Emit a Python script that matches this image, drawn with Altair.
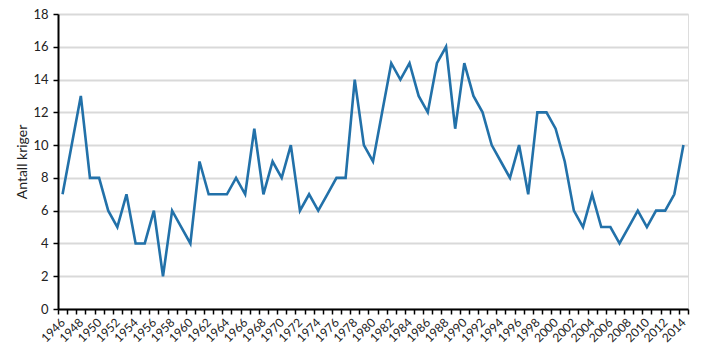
import altair as alt
import pandas as pd

years = list(range(1946, 2015))
wars = [7, 10, 13, 8, 8, 6, 5, 7, 4, 4,
        6, 2, 6, 5, 4, 9, 7, 7, 7, 8,
        7, 11, 7, 9, 8, 10, 6, 7, 6, 7,
        8, 8, 14, 10, 9, 12, 15, 14, 15, 13,
        12, 15, 16, 11, 15, 13, 12, 10, 9, 8,
        10, 7, 12, 12, 11, 9, 6, 5, 7, 5,
        5, 4, 5, 6, 5, 6, 6, 7, 10]
y_ticks = list(range(0, 19, 2))
label_years = list(range(1946, 2015, 2))

df = pd.DataFrame({"year": years, "wars": wars})

boundaries = [y - 0.5 for y in years] + [years[-1] + 0.5]
x_values = sorted(boundaries + label_years)

FONT = "Lato"

chart = alt.Chart(df).mark_line(color="#2271a9", strokeWidth=2.6).encode(
    x=alt.X("year:Q",
            scale=alt.Scale(domain=[years[0] - 0.5, years[-1] + 0.5], nice=False, zero=False),
            axis=alt.Axis(values=x_values, title=None, grid=False,
                          labelExpr="datum.value % 1 === 0 ? format(datum.value, 'd') : ''",
                          labelAngle=-45, labelAlign="right", labelBaseline="middle",
                          labelOverlap=False, labelBound=False, labelPadding=6,
                          labelFontSize=12, labelColor="#222", labelFont=FONT,
                          tickOpacity={"condition": {"test": "datum.value % 1 === 0", "value": 0}, "value": 1},
                          tickColor="#000", tickWidth=1.5, tickSize=5,
                          domainColor="#000", domainWidth=2)),
    y=alt.Y("wars:Q",
            scale=alt.Scale(domain=[0, 18], nice=False),
            axis=alt.Axis(values=y_ticks, title="Antall kriger",
                          titleFont=FONT, titleFontSize=14, titleFontWeight="normal",
                          titleColor="#222", titlePadding=3,
                          labelFont=FONT, labelFontSize=13, labelColor="#222", labelPadding=5,
                          tickColor="#000", tickWidth=1.5, tickSize=5,
                          domainColor="#000", domainWidth=2,
                          grid=True, gridColor="#d9d9d9", gridWidth=1.8)),
).properties(
    width=630,
    height=295,
    padding={"left": 58, "top": 14, "right": 18, "bottom": 45},
    autosize=alt.AutoSizeParams(type="none"),
).configure_view(stroke=None).configure(background="#ffffff")

chart.save("out.html", embed_options={"renderer": "svg", "actions": False})
